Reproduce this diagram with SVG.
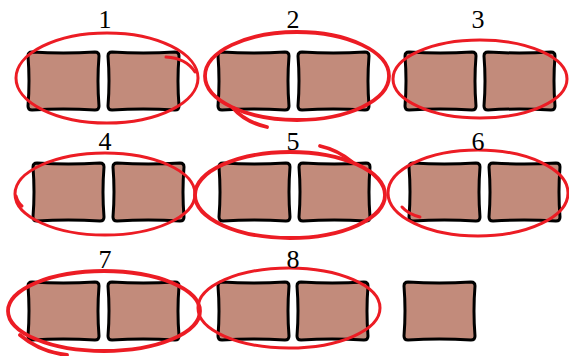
<svg xmlns="http://www.w3.org/2000/svg" xmlns:xlink="http://www.w3.org/1999/xlink" width="569" height="356" viewBox="0 0 569 356">
<style>
.box{fill:#c28b7b;stroke:#000;stroke-width:3;stroke-linejoin:round}
.loop{fill:none;stroke:#ec1c24;stroke-width:3;stroke-linecap:round}
.thick{stroke-width:3.8}
.lbl{font-family:"Liberation Serif","Times New Roman",serif;font-size:26px;fill:#000;text-anchor:middle}
</style>
<defs>
<path id="tile" d="M4,0 Q35,2 67,0 Q71,0 71,4 Q69,29 71,54 Q71,58 67,58 Q35,56 4,58 Q0,58 0,54 Q2,29 0,4 Q0,0 4,0 Z"/>
</defs>
<rect width="569" height="356" fill="#fff"/>
<g id="nodes">
<g id="box1"><use xlink:href="#tile" class="box" x="28" y="52"/></g>
<g id="box2"><use xlink:href="#tile" class="box" x="108" y="52"/></g>
<g id="box3"><use xlink:href="#tile" class="box" x="218" y="52"/></g>
<g id="box4"><use xlink:href="#tile" class="box" x="298" y="52"/></g>
<g id="box5"><use xlink:href="#tile" class="box" x="405" y="52"/></g>
<g id="box6"><use xlink:href="#tile" class="box" x="484" y="52"/></g>
<g id="box7"><use xlink:href="#tile" class="box" x="33" y="163"/></g>
<g id="box8"><use xlink:href="#tile" class="box" x="113" y="163"/></g>
<g id="box9"><use xlink:href="#tile" class="box" x="219" y="163"/></g>
<g id="box10"><use xlink:href="#tile" class="box" x="299" y="163"/></g>
<g id="box11"><use xlink:href="#tile" class="box" x="409" y="163"/></g>
<g id="box12"><use xlink:href="#tile" class="box" x="489" y="163"/></g>
<g id="box13"><use xlink:href="#tile" class="box" x="28" y="282"/></g>
<g id="box14"><use xlink:href="#tile" class="box" x="108" y="282"/></g>
<g id="box15"><use xlink:href="#tile" class="box" x="218" y="282"/></g>
<g id="box16"><use xlink:href="#tile" class="box" x="297" y="282"/></g>
<g id="box17"><use xlink:href="#tile" class="box" x="404" y="282"/></g>
</g>
<g id="loops">
<g id="loop1"><ellipse class="loop" cx="107" cy="78" rx="91" ry="45"/><path class="loop" d="M166,57 Q186,58 195,72"/></g>
<g id="loop2"><ellipse class="loop thick" cx="297" cy="76" rx="92" ry="44"/><path class="loop thick" d="M233,108 Q245,122 267,127"/></g>
<g id="loop3"><ellipse class="loop" cx="480" cy="79" rx="87" ry="39"/></g>
<g id="loop4"><ellipse class="loop" cx="105" cy="194" rx="90" ry="41"/><path class="loop" d="M16,196 Q18,203 22,206"/></g>
<g id="loop5"><ellipse class="loop thick" cx="290" cy="195" rx="95" ry="43"/><path class="loop thick" d="M320,146 Q338,150 352,162"/></g>
<g id="loop6"><ellipse class="loop" cx="478" cy="193" rx="90" ry="43"/><path class="loop" d="M402,207 Q408,214 420,217"/></g>
<g id="loop7"><ellipse class="loop thick" cx="104" cy="311" rx="96" ry="40"/><path class="loop thick" d="M20,335 Q40,352 67,355"/></g>
<g id="loop8"><ellipse class="loop" cx="289" cy="308" rx="91" ry="40"/></g>
</g>
<g id="labels">
<text class="lbl" x="105" y="28">1</text>
<text class="lbl" x="293" y="28">2</text>
<text class="lbl" x="478" y="28">3</text>
<text class="lbl" x="105" y="150">4</text>
<text class="lbl" x="293" y="150">5</text>
<text class="lbl" x="478" y="150">6</text>
<text class="lbl" x="105" y="268">7</text>
<text class="lbl" x="293" y="268">8</text>
</g>
</svg>
